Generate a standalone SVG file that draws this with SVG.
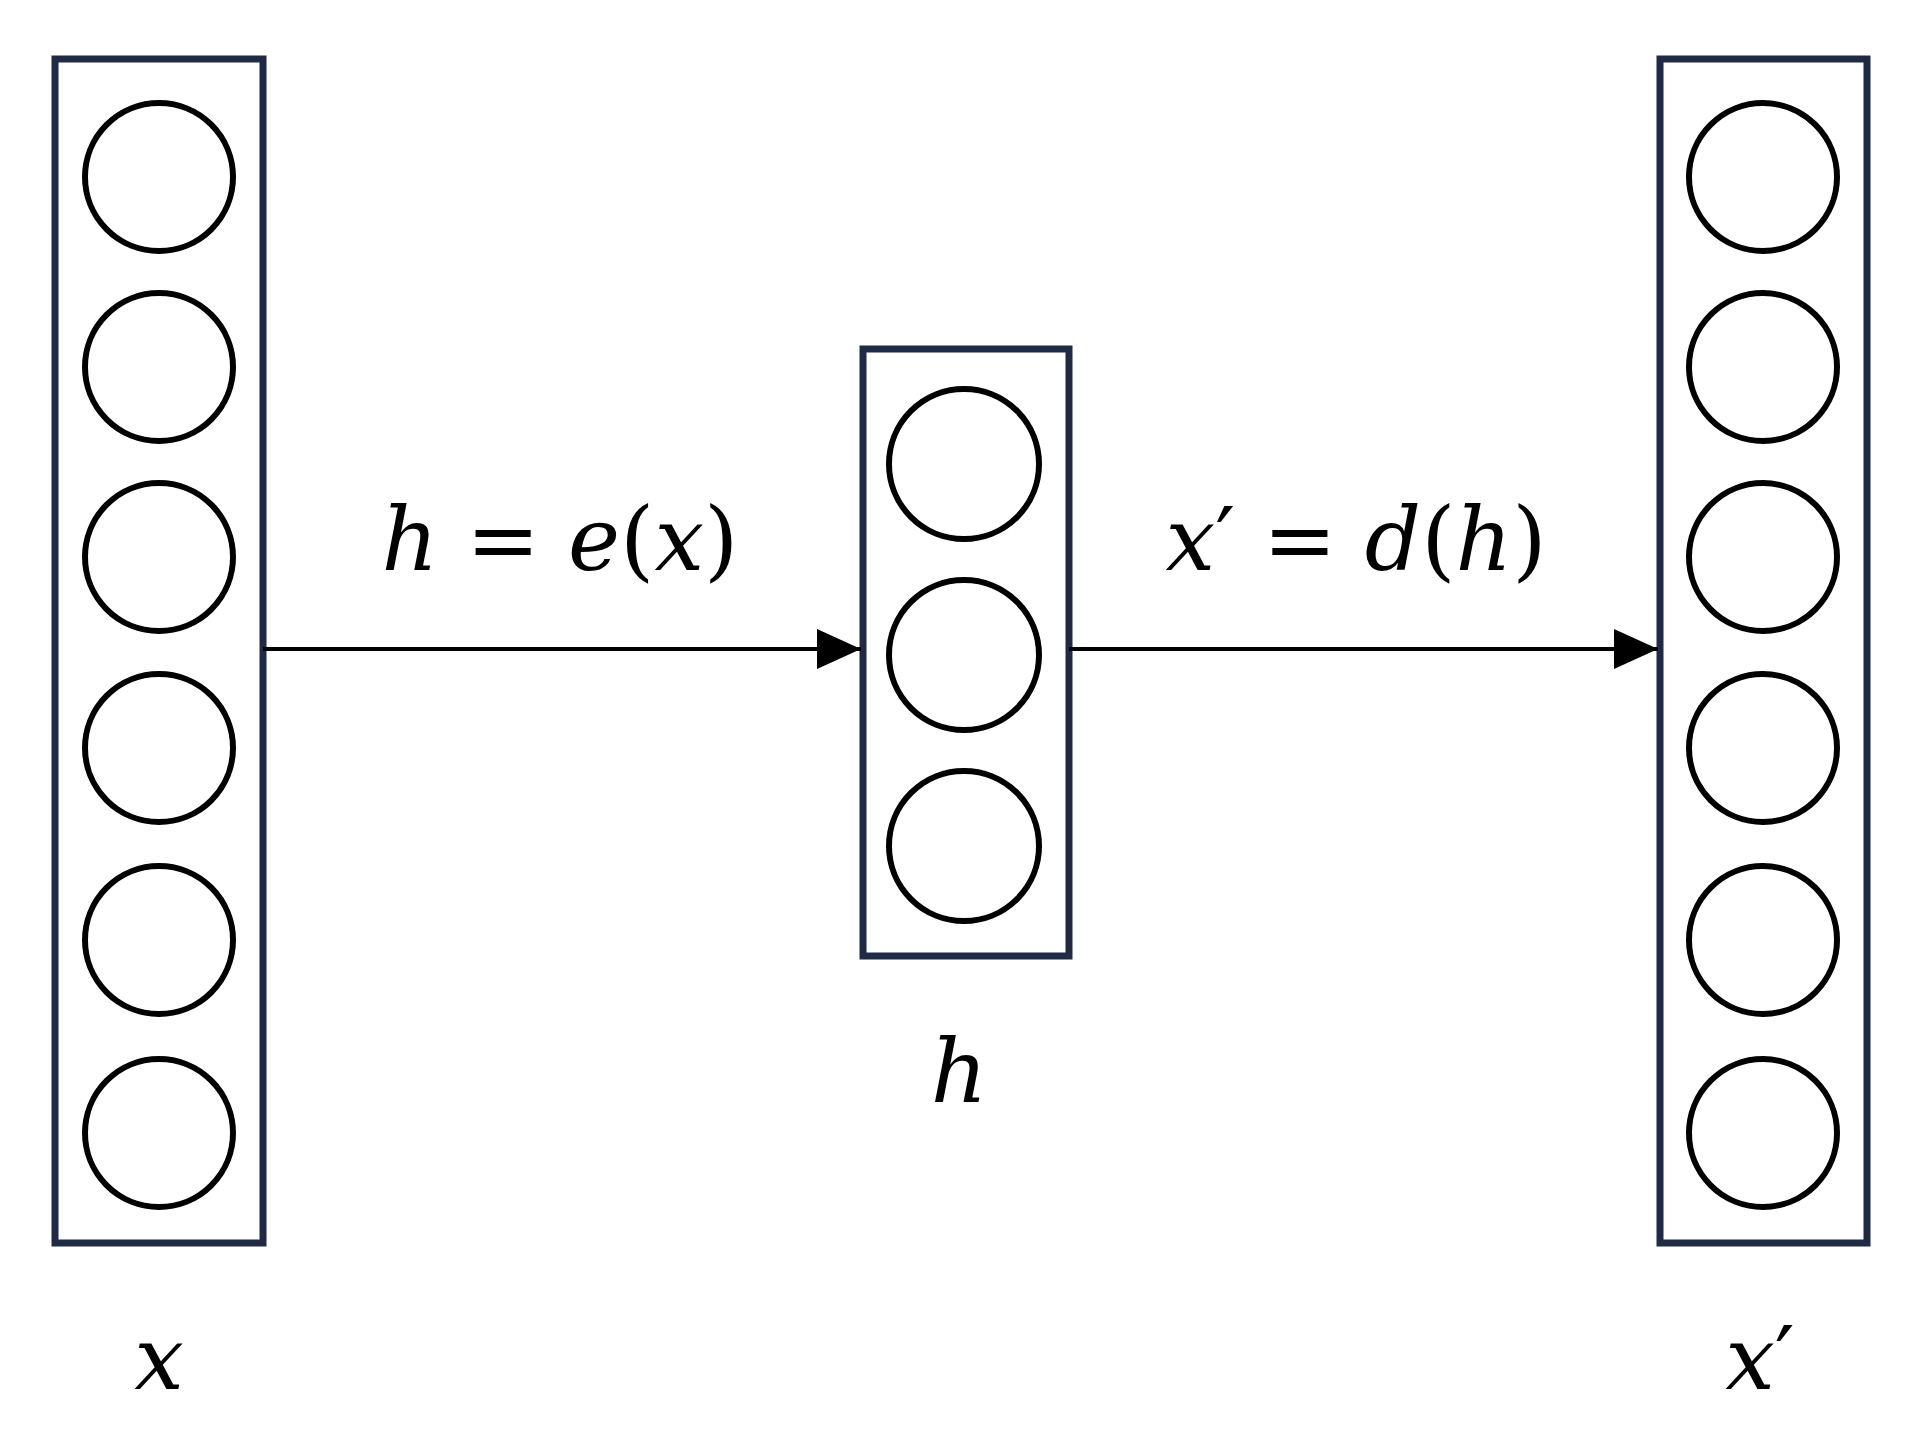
<svg xmlns="http://www.w3.org/2000/svg" width="1916" height="1436" viewBox="0 0 1916 1436">
<style>
.box{fill:none;stroke:#1f2a44;stroke-width:7}
.n{fill:#fff;stroke:#000;stroke-width:6}
.c{stroke:#000;stroke-width:4;fill:none}
.t{font-family:"DejaVu Serif","Liberation Serif",serif;font-size:88px;font-style:italic;fill:#000;text-anchor:middle}
.u{font-style:normal}
</style>
<defs>
<marker id="a" viewBox="0 0 44 40" refX="44" refY="20" markerWidth="44" markerHeight="40" markerUnits="userSpaceOnUse" orient="auto"><path d="M0,0L44,20L0,40z" fill="#000"/></marker></defs>
<g id="input">
<rect class="box" x="55" y="59" width="208" height="1184"/>
<circle class="n" cx="159" cy="177" r="74"/><circle class="n" cx="159" cy="367" r="74"/><circle class="n" cx="159" cy="557" r="74"/><circle class="n" cx="159" cy="748" r="74"/><circle class="n" cx="159" cy="940" r="74"/><circle class="n" cx="159" cy="1133" r="74"/>
</g>
<g id="hidden">
<rect class="box" x="863" y="349" width="206" height="607"/>
<circle class="n" cx="964" cy="464" r="75"/><circle class="n" cx="964" cy="655" r="75"/><circle class="n" cx="964" cy="846" r="75"/>
</g>
<g id="output">
<rect class="box" x="1660" y="59" width="207" height="1184"/>
<circle class="n" cx="1763" cy="177" r="74"/><circle class="n" cx="1763" cy="367" r="74"/><circle class="n" cx="1763" cy="557" r="74"/><circle class="n" cx="1763" cy="748" r="74"/><circle class="n" cx="1763" cy="940" r="74"/><circle class="n" cx="1763" cy="1133" r="74"/>
</g>
<g id="connectors">
<line class="c" x1="263" y1="649" x2="861" y2="649" marker-end="url(#a)"/>
<line class="c" x1="1069" y1="649" x2="1658" y2="649" marker-end="url(#a)"/>
</g>
<g id="labels">
<text class="t" x="560" y="570">h <tspan class="u">=</tspan> e<tspan class="u">(</tspan>x<tspan class="u">)</tspan></text>
<text class="t" x="1356" y="570">x<tspan class="u">′</tspan> <tspan class="u">=</tspan> d<tspan class="u">(</tspan>h<tspan class="u">)</tspan></text>
<text class="t" x="959" y="1102">h</text>
<text class="t" x="159" y="1389">x</text>
<text class="t" x="1760" y="1389">x<tspan class="u">′</tspan></text>
</g>
</svg>
